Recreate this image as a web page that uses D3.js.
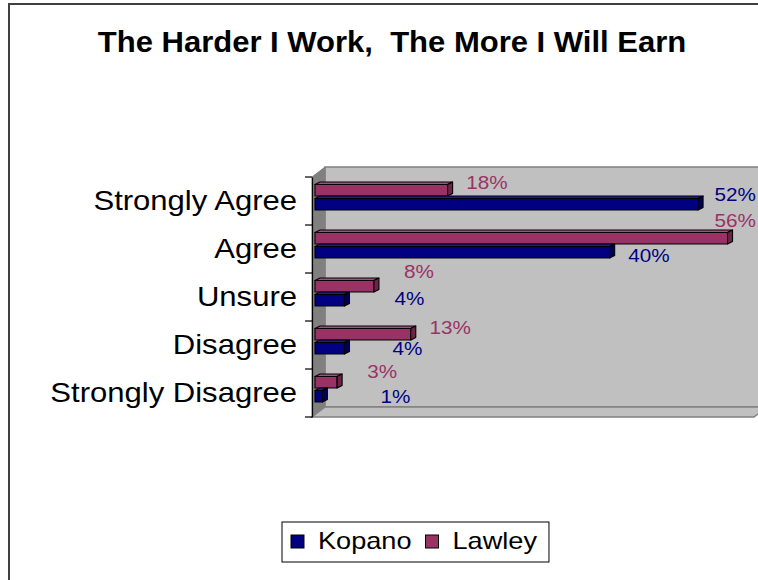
<!DOCTYPE html>
<html>
<head>
<meta charset="utf-8">
<script src="https://cdn.jsdelivr.net/npm/d3@7"></script>
<style>
  html, body { margin: 0; padding: 0; background: #fff; }
  svg { display: block; font-family: "Liberation Sans", Arial, sans-serif; }
</style>
</head>
<body>
<script>
// Survey answers, share of respondents per school
const categories = ["Strongly Agree", "Agree", "Unsure", "Disagree", "Strongly Disagree"];
const kopano = [0.52, 0.40, 0.04, 0.04, 0.01];
const lawley = [0.18, 0.56, 0.08, 0.13, 0.03];
const seriesNames = ["Kopano", "Lawley"];
const titleText = "The Harder I Work,  The More I Will Earn";

// Layout and styling
const W = 758, H = 580;
const front = { x0: 312, x1: 754, y0: 177, y1: 417 };
const depth = { dx: 13, dy: -10 };
const barOffset = { dx: 3, dy: -5 };
const barH = 14, capD = 5, capT = 2.5;
const colors = {
  Kopano: { front: "#000080", top: "#1c1c96", end: "#00005a", label: "#000080" },
  Lawley: { front: "#993366", top: "#ad4d7c", end: "#6e2349", label: "#993366" }
};
const labelRule = { Kopano: 2, Lawley: -22 };
const labelShift = {
  "Kopano|Strongly Agree": [0, -8], "Kopano|Agree": [0, 5],
  "Kopano|Unsure": [20, 0], "Kopano|Disagree": [18, 2], "Kopano|Strongly Disagree": [28, 2],
  "Lawley|Strongly Agree": [0, 4], "Lawley|Agree": [0, -6], "Lawley|Unsure": [0, -3],
  "Lawley|Disagree": [0, 5], "Lawley|Strongly Disagree": [0, 1]
};
const stretch = 1.15;

const svg = d3.select("body").append("svg").attr("width", W).attr("height", H);

// Chart area frame
svg.append("rect")
  .attr("x", 9).attr("y", 4).attr("width", 790).attr("height", 620)
  .attr("fill", "#fff").attr("stroke", "#404040").attr("stroke-width", 2);

function sText(parent, x, y, str, sx) {
  return parent.append("text")
    .attr("transform", `translate(${x},${y}) scale(${sx},1)`)
    .text(str);
}

// Title (keeps the double space after the comma)
sText(svg, 392, 52, titleText, 1.07)
  .style("white-space", "pre")
  .attr("text-anchor", "middle")
  .attr("font-size", 29).attr("font-weight", "bold").attr("fill", "#000");

// Scales
const x = d3.scaleLinear().domain([0, 0.6]).range([front.x0, front.x1]);
const y = d3.scaleBand().domain(categories).range([front.y0, front.y1]);
const sub = d3.scaleBand().domain(["Lawley", "Kopano"]).range([0, 2 * barH]);

// 3-D walls
const bx0 = front.x0 + depth.dx, bx1 = front.x1 + depth.dx;
const by0 = front.y0 + depth.dy, by1 = front.y1 + depth.dy;
const walls = svg.append("g");
walls.append("polygon")
  .attr("points", [[bx0, by0], [bx1, by0], [bx1, by1], [bx0, by1]].join(" "))
  .attr("fill", "#c0c0c0").attr("stroke", "#808080").attr("stroke-width", 1.5);
walls.append("polygon")
  .attr("points", [[front.x0, front.y0], [bx0, by0], [bx0, by1], [front.x0, front.y1]].join(" "))
  .attr("fill", "#808080").attr("stroke", "#808080").attr("stroke-width", 1);
walls.append("polygon")
  .attr("points", [[front.x0, front.y1], [bx0, by1], [bx1, by1], [front.x1, front.y1]].join(" "))
  .attr("fill", "#c0c0c0").attr("stroke", "#808080").attr("stroke-width", 1.5);

// Category axis with tick marks between bands
const axisG = svg.append("g").attr("transform", `translate(${front.x0},0)`);
axisG.call(d3.axisLeft(y).tickSize(0).tickFormat(""));
axisG.select(".domain").attr("stroke", "#000").attr("stroke-width", 1.2);
const bounds = categories.map(c => y(c)).concat([front.y1]);
axisG.selectAll("line.sep").data(bounds).join("line")
  .attr("class", "sep")
  .attr("x1", -7).attr("x2", 0)
  .attr("y1", d => d).attr("y2", d => d)
  .attr("stroke", "#000").attr("stroke-width", 1.2);

// Category labels
categories.forEach(c => {
  sText(svg, 297, y(c) + y.bandwidth() / 2, c, stretch)
    .attr("text-anchor", "end").attr("dominant-baseline", "central")
    .attr("font-size", 27).attr("fill", "#000");
});

// Bars
const rows = [];
categories.forEach((c, i) => {
  rows.push({ series: "Lawley", cat: c, v: lawley[i] });
  rows.push({ series: "Kopano", cat: c, v: kopano[i] });
});
const fmt = d3.format(".0%");
const barsG = svg.append("g");
rows.forEach(d => {
  const col = colors[d.series];
  const xs = x(0) + barOffset.dx, xe = x(d.v) + barOffset.dx;
  const yb = y(d.cat) + (y.bandwidth() - 2 * barH) / 2 + barOffset.dy + sub(d.series);
  const g = barsG.append("g").attr("stroke", "#000").attr("stroke-width", 1.1).attr("stroke-linejoin", "round");
  g.append("rect")
    .attr("x", xs).attr("y", yb + capT).attr("width", xe - xs).attr("height", barH - capT)
    .attr("fill", col.front);
  g.append("path")
    .attr("d", `M${xs},${yb + capT}L${xs + capD},${yb}L${xe + capD},${yb}L${xe},${yb + capT}Z`)
    .attr("fill", col.top);
  g.append("path")
    .attr("d", `M${xe},${yb + capT}L${xe + capD},${yb}L${xe + capD},${yb + barH - capT}L${xe},${yb + barH}Z`)
    .attr("fill", col.end);

  const sh = labelShift[d.series + "|" + d.cat] || [0, 0];
  const lx = Math.min(xe + capD + 55, 756) + sh[0];
  const ly = y(d.cat) + y.bandwidth() / 2 + labelRule[d.series] + sh[1];
  sText(svg, lx, ly, fmt(d.v), stretch)
    .attr("text-anchor", "end").attr("dominant-baseline", "central")
    .attr("font-size", 18).attr("fill", col.label);
});

// Legend
const leg = svg.append("g");
const legX = 282, legY = 522, legH = 40;
const box = leg.append("rect").attr("x", legX).attr("y", legY).attr("height", legH)
  .attr("fill", "#fff").attr("stroke", "#000").attr("stroke-width", 1);
let cx = legX + 9;
seriesNames.forEach(name => {
  leg.append("rect")
    .attr("x", cx).attr("y", legY + 13).attr("width", 13).attr("height", 13)
    .attr("fill", colors[name].front).attr("stroke", "#000").attr("stroke-width", 1);
  const t = sText(leg, cx + 27, legY + 27, name, 1.18)
    .attr("font-size", 23).attr("fill", "#000");
  cx += 27 + t.node().getComputedTextLength() * 1.18 + 14;
});
box.attr("width", cx - 14 + 12 - legX);
</script>
</body>
</html>
